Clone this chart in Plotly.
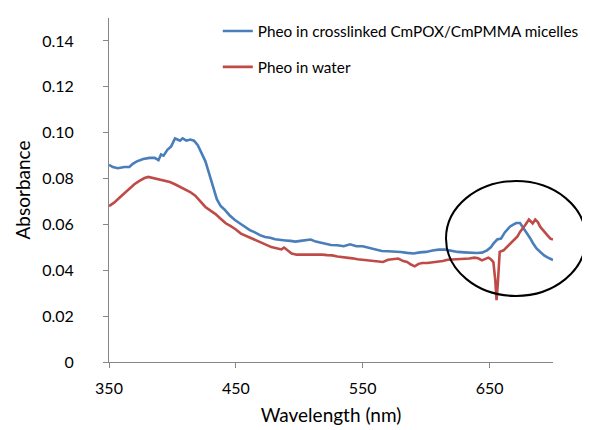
import plotly.graph_objects as go

# Data
wl_micelles = [350, 353, 357, 362, 366, 369, 372, 377, 382, 386, 389, 391, 393, 396, 399, 402, 404, 406, 408, 411,
               414, 417, 420, 423, 426, 429, 432, 435, 438, 441, 445, 449, 453, 457, 461, 465, 469, 473, 477, 481,
               485, 489, 493, 497, 501, 505, 509, 513, 517, 521, 525, 530, 535, 540, 545, 550, 555, 560, 565, 570,
               575, 580, 585, 590, 595, 600, 605, 610, 615, 620, 625, 630, 635, 640, 644, 648, 651, 653, 656, 659,
               662, 666, 669, 671, 674, 676, 678, 680, 682, 684, 687, 690, 693, 696, 700]
abs_micelles = [0.086, 0.085, 0.0845, 0.085, 0.085, 0.0865, 0.0875, 0.0885, 0.089, 0.089, 0.088, 0.0905, 0.090, 0.0925,
                0.094, 0.0975, 0.097, 0.0965, 0.0975, 0.0965, 0.097, 0.0965, 0.0945, 0.091, 0.0875, 0.082, 0.0765,
                0.071, 0.068, 0.0665, 0.064, 0.062, 0.0605, 0.059, 0.0575, 0.0565, 0.0553, 0.0545, 0.0542, 0.0535,
                0.0534, 0.053, 0.0528, 0.0525, 0.0528, 0.053, 0.0534, 0.0525, 0.052, 0.0512, 0.051, 0.0509, 0.0505,
                0.0513, 0.0505, 0.0505, 0.0497, 0.049, 0.0484, 0.0483, 0.0482, 0.048, 0.0476, 0.0473, 0.0478, 0.048,
                0.0486, 0.049, 0.049, 0.0484, 0.048, 0.0478, 0.0475, 0.0475, 0.0477, 0.0487, 0.050, 0.0516, 0.0534,
                0.0538, 0.0565, 0.059, 0.060, 0.0606, 0.0606, 0.059, 0.0575, 0.056, 0.054, 0.052, 0.0495, 0.048,
                0.0465, 0.0455, 0.0445]

wl_water = [350, 354, 358, 362, 366, 370, 374, 378, 381, 384, 387, 390, 394, 398, 402, 406, 410, 414, 418, 422,
            426, 430, 434, 438, 442, 446, 450, 454, 458, 462, 466, 470, 474, 478, 482, 486, 488, 491, 494, 498,
            502, 506, 510, 514, 518, 522, 526, 530, 534, 538, 542, 546, 550, 554, 558, 562, 566, 570, 574, 578,
            582, 585, 588, 591, 594, 597, 601, 605, 609, 613, 617, 621, 626, 630, 634, 638, 641, 644, 647, 649,
            651, 653, 654.5, 655.5, 656.5, 658, 661, 665, 669, 672, 674, 676, 678, 681, 683, 684, 686, 688, 690,
            692, 694, 696, 698, 700]
abs_water = [0.068, 0.0695, 0.0715, 0.0735, 0.0755, 0.0775, 0.079, 0.0802, 0.0807, 0.0803, 0.0798, 0.0795, 0.0788,
             0.0785, 0.0775, 0.0763, 0.0752, 0.0741, 0.0725, 0.070, 0.0676, 0.066, 0.0645, 0.0625, 0.0605, 0.0592,
             0.0578, 0.056, 0.055, 0.0538, 0.0528, 0.0519, 0.051, 0.0501, 0.0496, 0.0491, 0.0499, 0.0485, 0.0473,
             0.0468, 0.0468, 0.047, 0.047, 0.0468, 0.0468, 0.0466, 0.0465, 0.046, 0.0458, 0.0455, 0.0452, 0.0448,
             0.0446, 0.0443, 0.0442, 0.0438, 0.0436, 0.0446, 0.0448, 0.0451, 0.044, 0.0436, 0.0425, 0.0417, 0.0428,
             0.0432, 0.0432, 0.0434, 0.0438, 0.044, 0.0446, 0.0447, 0.0447, 0.045, 0.0451, 0.0455, 0.0452, 0.0443,
             0.0452, 0.0455, 0.0448, 0.0436, 0.0356, 0.027, 0.0343, 0.048, 0.0487, 0.0509, 0.053, 0.0548, 0.0567,
             0.058, 0.0596, 0.0621, 0.0608, 0.0604, 0.0621, 0.061, 0.0589, 0.0575, 0.056, 0.055, 0.0538, 0.0534]

series_names = ["Pheo in crosslinked CmPOX/CmPMMA micelles", "Pheo in water"]
y_tick_vals = [0, 0.02, 0.04, 0.06, 0.08, 0.10, 0.12, 0.14]
y_tick_text = ["0", "0.02", "0.04", "0.06", "0.08", "0.10", "0.12", "0.14"]
x_tick_vals = [350, 450, 550, 650]
x_tick_text = ["350", "450", "550", "650"]

FONT = "Lato"
AXIS_COLOR = "#868686"

fig = go.Figure()
fig.add_trace(go.Scatter(x=wl_micelles, y=abs_micelles, mode="lines", name=series_names[0],
                         legendgroup="a", line=dict(color="#4A7EBB", width=2.6)))
fig.add_trace(go.Scatter(x=wl_water, y=abs_water, mode="lines", name=series_names[1],
                         legendgroup="b", line=dict(color="#BE4B48", width=2.6)))

# Ellipse annotation (extends beyond plot area)
fig.add_shape(type="circle", xref="paper", yref="paper",
              x0=0.759, x1=1.074, y0=0.192, y1=0.526,
              line=dict(color="black", width=2))

fig.update_layout(
    width=590, height=422,
    margin=dict(l=101, r=45, t=10, b=68, autoexpand=False),
    paper_bgcolor="white", plot_bgcolor="white",
    font=dict(family=FONT, size=16, color="#000000"),
    showlegend=True,
    legend=dict(x=0.245, y=1.01, xanchor="left", yanchor="top",
                font=dict(family=FONT, size=15.3), bgcolor="rgba(0,0,0,0)",
                tracegroupgap=13, itemwidth=30),
    xaxis=dict(range=[350, 700], tickvals=x_tick_vals, ticktext=x_tick_text,
               showgrid=False, zeroline=False, showline=True, linecolor=AXIS_COLOR, linewidth=1,
               ticks="outside", ticklen=5, tickcolor=AXIS_COLOR, ticklabelstandoff=7,
               title=dict(text="Wavelength (nm)", font=dict(size=19), standoff=12)),
    yaxis=dict(range=[0, 0.15], tickvals=y_tick_vals, ticktext=y_tick_text,
               showgrid=False, zeroline=False, showline=True, linecolor=AXIS_COLOR, linewidth=1,
               ticks="outside", ticklen=5, tickcolor=AXIS_COLOR, ticklabelstandoff=26,
               title=dict(text="Absorbance", font=dict(size=19), standoff=6)),
)

fig.write_html("out.html")
